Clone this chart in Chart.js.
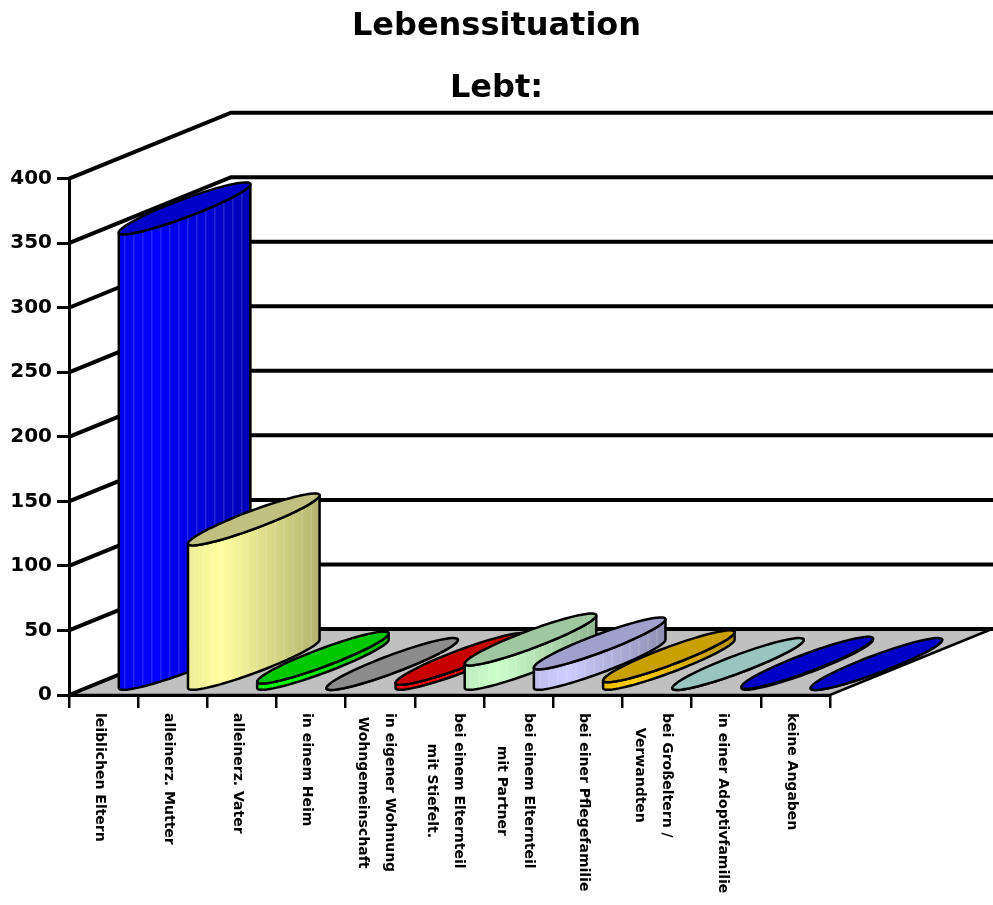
<!DOCTYPE html>
<html>
<head>
<meta charset="utf-8">
<title>Lebenssituation</title>
<script src="https://cdn.jsdelivr.net/npm/chart.js@4.4.1/dist/chart.umd.min.js"></script>
<style>
    html, body { margin: 0; padding: 0; background: #fff; }
</style>
</head>
<body>
<canvas id="lebtChart" width="993" height="905"></canvas>
<script>
const categories = [
    ["leiblichen Eltern"],
    ["alleinerz. Mutter"],
    ["alleinerz. Vater"],
    ["in einem Heim"],
    ["in eigener Wohnung", "Wohngemeinschaft"],
    ["bei einem Elternteil", "mit Stiefelt."],
    ["bei einem Elternteil", "mit Partner"],
    ["bei einer Pflegefamilie"],
    ["bei Großeltern /", "Verwandten"],
    ["in einer Adoptivfamilie"],
    ["keine Angaben"]
];
const counts = [354, 113, 6, 1, 5, 20, 17, 7, 1, 2, 1];
const yTicks = [0, 50, 100, 150, 200, 250, 300, 350, 400];

const faceColors = ["#0000ff", "#ffffa0", "#00ff00", "#a0a0a0", "#ff0000", "#ccffcc",
                    "#ccccff", "#ffcc00", "#ccffff", "#0000ff", "#0000ff"];
const topColors = ["#0000c8", "#c0c080", "#00c800", "#8c8c8c", "#c80000", "#a0c8a0",
                   "#a0a0cc", "#c8a000", "#99c4c0", "#0000c8", "#0000c8"];

const fontName = "'DejaVu Sans'";
const depth = { x: 162, y: -66 };

function shade(hex, f) {
    const n = parseInt(hex.slice(1), 16);
    const r = Math.round(((n >> 16) & 255) * f);
    const g = Math.round(((n >> 8) & 255) * f);
    const b = Math.round((n & 255) * f);
    return "rgb(" + r + "," + g + "," + b + ")";
}

// floor + back wall grid lines
const wallsPlugin = {
    id: "walls",
    beforeDraw(chart) {
        const ctx = chart.ctx;
        const area = chart.chartArea;
        const yScale = chart.scales.y;
        const y0 = yScale.getPixelForValue(0);
        ctx.save();
        ctx.fillStyle = "#fff";
        ctx.fillRect(0, 0, chart.width, chart.height);

        ctx.beginPath();
        ctx.moveTo(area.left, y0);
        ctx.lineTo(area.right, y0);
        ctx.lineTo(area.right + depth.x, y0 + depth.y);
        ctx.lineTo(area.left + depth.x, y0 + depth.y);
        ctx.closePath();
        ctx.fillStyle = "#c0c0c0";
        ctx.fill();
        ctx.lineWidth = 2.5;
        ctx.strokeStyle = "#000";
        ctx.stroke();

        ctx.lineWidth = 4;
        yTicks.forEach(v => {
            const y = yScale.getPixelForValue(v);
            ctx.beginPath();
            ctx.moveTo(area.left, y);
            ctx.lineTo(area.left + depth.x, y + depth.y);
            ctx.lineTo(chart.width, y + depth.y);
            ctx.stroke();
        });
        ctx.restore();
    }
};

// cylinders on top of the (invisible) bars
const cylinderPlugin = {
    id: "cylinders",
    afterDatasetsDraw(chart) {
        const ctx = chart.ctx;
        const xScale = chart.scales.x;
        const meta = chart.getDatasetMeta(0);
        const band = xScale.getPixelForValue(1) - xScale.getPixelForValue(0);
        const ax = band * 0.95, ay = -band * 0.355;
        const len = Math.hypot(ax, ay);
        const minor = 9;
        const bx = -ay / len * minor, by = ax / len * minor;
        const thR = Math.atan2(bx, ax);
        const steps = 40;

        meta.data.forEach((bar, i) => {
            const cx = bar.x + depth.x * 0.5;
            const cBase = bar.base + depth.y * 0.45;
            const cTop = bar.y + depth.y * 0.45;
            const pt = (cy, t) => [cx + ax * Math.cos(t) + bx * Math.sin(t),
                                   cy + ay * Math.cos(t) + by * Math.sin(t)];

            ctx.save();
            ctx.lineWidth = 2.5;
            ctx.strokeStyle = "#000";
            ctx.lineJoin = "round";

            // side face
            const side = new Path2D();
            for (let s = 0; s <= steps; s++) {
                const p = pt(cBase, thR + Math.PI * s / steps);
                s === 0 ? side.moveTo(p[0], p[1]) : side.lineTo(p[0], p[1]);
            }
            for (let s = steps; s >= 0; s--) {
                const p = pt(cTop, thR + Math.PI * s / steps);
                side.lineTo(p[0], p[1]);
            }
            side.closePath();
            const grad = ctx.createLinearGradient(cx - ax, 0, cx + ax, 0);
            grad.addColorStop(0, shade(faceColors[i], 0.93));
            grad.addColorStop(0.25, faceColors[i]);
            grad.addColorStop(1, shade(faceColors[i], 0.7));
            ctx.fillStyle = grad;
            ctx.fill(side);

            // faint facet stripes
            ctx.save();
            ctx.clip(side);
            ctx.lineWidth = 1;
            ctx.strokeStyle = "rgba(255,255,255,0.22)";
            for (let sx = cx - ax + 6; sx < cx + ax; sx += 9) {
                ctx.beginPath();
                ctx.moveTo(sx, bar.y - 80);
                ctx.lineTo(sx, bar.base + 20);
                ctx.stroke();
            }
            ctx.restore();
            ctx.stroke(side);

            // top
            const top = new Path2D();
            for (let s = 0; s <= steps * 2; s++) {
                const p = pt(cTop, Math.PI * s / steps);
                s === 0 ? top.moveTo(p[0], p[1]) : top.lineTo(p[0], p[1]);
            }
            top.closePath();
            ctx.fillStyle = topColors[i];
            ctx.fill(top);
            ctx.stroke(top);
            ctx.restore();
        });
    }
};

// vertical category labels, reading top to bottom
const labelPlugin = {
    id: "rotLabels",
    afterDraw(chart) {
        const ctx = chart.ctx;
        const xScale = chart.scales.x;
        const top = chart.chartArea.bottom + 18;
        ctx.save();
        ctx.font = "bold 14px " + fontName;
        ctx.fillStyle = "#000";
        ctx.textAlign = "center";
        ctx.textBaseline = "middle";
        categories.forEach((lines, i) => {
            const x = xScale.getPixelForValue(i) - 4;
            const w = Math.max(...lines.map(l => ctx.measureText(l).width));
            ctx.save();
            ctx.translate(x, top + w / 2);
            ctx.rotate(Math.PI / 2);
            lines.forEach((l, k) => ctx.fillText(l, 0, (k - (lines.length - 1) / 2) * 27));
            ctx.restore();
        });
        ctx.restore();
    }
};

new Chart("lebtChart", {
    type: "bar",
    data: {
        labels: categories,
        datasets: [{
            data: counts,
            backgroundColor: "rgba(0,0,0,0)",
            borderWidth: 0
        }]
    },
    options: {
        responsive: false,
        animation: false,
        layout: { padding: { top: -4, right: 0, bottom: 0, left: 0 } },
        plugins: {
            legend: { display: false },
            tooltip: { enabled: false },
            title: {
                display: true,
                text: ["Lebenssituation", "Lebt:"],
                color: "#000",
                font: { family: fontName, size: 32, weight: "bold", lineHeight: 1.94 },
                padding: { top: 0, bottom: 58.5 }
            }
        },
        scales: {
            x: {
                grid: { offset: true, drawOnChartArea: false, color: "#000", lineWidth: 2.5, tickLength: 13 },
                border: { color: "#000", width: 3 },
                ticks: { display: false },
                afterFit: s => { s.height = 210; }
            },
            y: {
                min: yTicks[0],
                max: yTicks[yTicks.length - 1],
                ticks: {
                    stepSize: 50,
                    color: "#000",
                    padding: 5,
                    font: { family: fontName, size: 20, weight: "bold" }
                },
                grid: { drawOnChartArea: false, color: "#000", lineWidth: 3, tickLength: 12 },
                border: { color: "#000", width: 3 },
                afterFit: s => { s.width = 69; }
            },
            // empty right-hand space for the depth of the 3D floor
            depthSpace: {
                type: "linear",
                position: "right",
                grid: { display: false },
                border: { display: false },
                ticks: { display: false },
                afterFit: s => { s.width = 163; }
            }
        }
    },
    plugins: [wallsPlugin, cylinderPlugin, labelPlugin]
});
</script>
</body>
</html>
